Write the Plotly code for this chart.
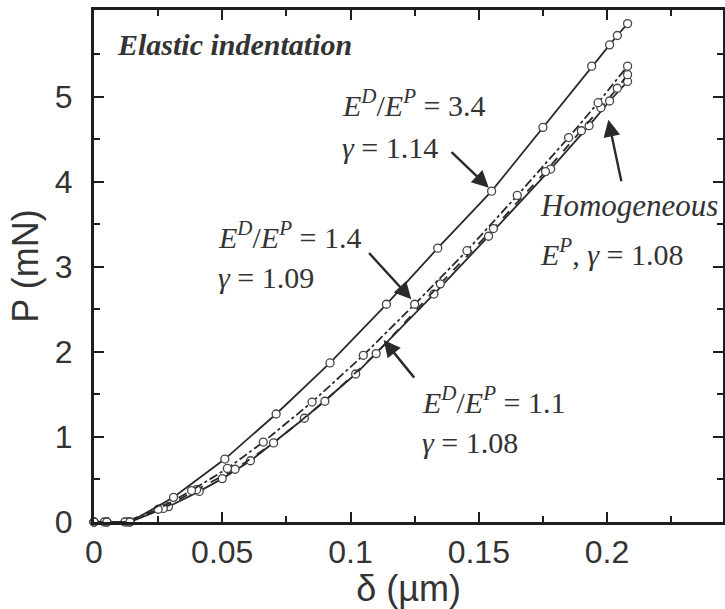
import plotly.graph_objects as go

# ---- data ----
delta_34 = [0, 0.005, 0.014, 0.031, 0.051, 0.071, 0.092, 0.114, 0.134, 0.155, 0.175, 0.194, 0.201, 0.204, 0.208]
P_34 = [0, 0, 0, 0.29, 0.74, 1.27, 1.87, 2.56, 3.22, 3.89, 4.64, 5.36, 5.61, 5.72, 5.86]

delta_14 = [0, 0.004, 0.012, 0.025, 0.038, 0.052, 0.066, 0.085, 0.105, 0.125, 0.1454, 0.165, 0.185, 0.1965, 0.208]
P_14 = [0, 0, 0, 0.15, 0.37, 0.63, 0.94, 1.41, 1.96, 2.56, 3.19, 3.84, 4.52, 4.93, 5.36]

delta_11 = [0, 0.005, 0.013, 0.027, 0.04, 0.055, 0.07, 0.09, 0.11, 0.135, 0.1557, 0.176, 0.19, 0.1976, 0.204, 0.208]
P_11 = [0, 0, 0, 0.16, 0.38, 0.62, 0.93, 1.42, 1.98, 2.80, 3.45, 4.12, 4.60, 4.87, 5.10, 5.26]

delta_h = [0, 0.005, 0.014, 0.029, 0.041, 0.05, 0.061, 0.082, 0.102, 0.1325, 0.1538, 0.178, 0.193, 0.201, 0.208]
P_h = [0, 0, 0, 0.18, 0.36, 0.51, 0.72, 1.22, 1.74, 2.68, 3.36, 4.15, 4.66, 4.95, 5.18]

x_tickvals = [0, 0.05, 0.1, 0.15, 0.2]
x_ticktext = ["0", "0.05", "0.1", "0.15", "0.2"]
x_minor = [0.025, 0.075, 0.125, 0.175, 0.225]
y_tickvals = [0, 1, 2, 3, 4, 5]
y_minor = [0.5, 1.5, 2.5, 3.5, 4.5, 5.5]

INK = "#2a2a2a"
TXT = "#333333"

series = [
    (delta_h, P_h, "Homogeneous", "solid"),
    (delta_11, P_11, "E^D/E^P = 1.1", "dash"),
    (delta_14, P_14, "E^D/E^P = 1.4", "dashdot"),
    (delta_34, P_34, "E^D/E^P = 3.4", "solid"),
]

fig = go.Figure()
for xs, ys, name, dash in series:
    fig.add_trace(go.Scatter(
        x=xs, y=ys, name=name, mode="lines+markers",
        line=dict(color=INK, width=1.8, dash=dash),
        marker=dict(symbol="circle", size=8, color="white",
                    line=dict(color="#444444", width=1.3)),
        cliponaxis=False, showlegend=False,
    ))

tickfont = dict(family="Liberation Sans, Arial, sans-serif", size=32, color=TXT)
titlefont = dict(family="Liberation Sans, Arial, sans-serif", size=36, color=TXT)

fig.update_xaxes(
    range=[0, 0.2452], showgrid=False, zeroline=False, automargin=False,
    showline=True, mirror="ticks", linewidth=3, linecolor="#1e1e1e",
    ticks="inside", ticklen=10, tickwidth=2, tickcolor="#1e1e1e",
    tickmode="array", tickvals=x_tickvals, ticktext=x_ticktext,
    minor=dict(tickmode="array", tickvals=x_minor, ticks="inside", ticklen=6,
               tickwidth=2, tickcolor="#1e1e1e"),
    tickfont=tickfont, ticklabelstandoff=0,
    title=dict(text="δ (µm)", font=titlefont, standoff=0),
)
fig.update_yaxes(
    range=[0, 6.02], showgrid=False, zeroline=False, automargin=False,
    showline=True, mirror="ticks", linewidth=3, linecolor="#1e1e1e",
    ticks="inside", ticklen=10, tickwidth=2, tickcolor="#1e1e1e",
    tickmode="array", tickvals=y_tickvals,
    minor=dict(tickmode="array", tickvals=y_minor, ticks="inside", ticklen=6,
               tickwidth=2, tickcolor="#1e1e1e"),
    tickfont=tickfont, ticklabelstandoff=12,
    title=dict(text="P (mN)", font=titlefont, standoff=6),
)

serif = "Liberation Serif, Times New Roman, serif"
labels = [
    ("<b><i>Elastic indentation</i></b>", 0.0081, 5.61, 30),
    ("<i>E</i><sup><i>D</i></sup>/<i>E</i><sup><i>P</i></sup> = 3.4", 0.0959, 4.93, 30),
    ("<i>γ</i> = 1.14", 0.0959, 4.405, 30),
    ("<i>E</i><sup><i>D</i></sup>/<i>E</i><sup><i>P</i></sup> = 1.4", 0.0476, 3.376, 30),
    ("<i>γ</i> = 1.09", 0.0476, 2.87, 30),
    ("<i>E</i><sup><i>D</i></sup>/<i>E</i><sup><i>P</i></sup> = 1.1", 0.1272, 1.435, 30),
    ("<i>γ</i> = 1.08", 0.1272, 0.929, 30),
    ("<i>Homogeneous</i>", 0.1729, 3.718, 31),
    ("<i>E</i><sup><i>P</i></sup>, <i>γ</i> = 1.08", 0.1729, 3.176, 30),
]
for text, x, y, size in labels:
    fig.add_annotation(x=x, y=y, xref="x", yref="y", text=text, showarrow=False,
                       xanchor="left", yanchor="middle",
                       font=dict(family=serif, size=size, color=TXT))

arrows = [
    (0.1539, 3.93, 0.1388, 4.365),
    (0.1237, 2.62, 0.1067, 3.18),
    (0.1129, 2.14, 0.1253, 1.68),
    (0.2005, 4.73, 0.2057, 3.99),
]
for hx, hy, tx, ty in arrows:
    fig.add_annotation(x=hx, y=hy, ax=tx, ay=ty, xref="x", yref="y",
                       axref="x", ayref="y", text="", showarrow=True,
                       arrowhead=2, arrowsize=1.4, arrowwidth=2.4,
                       arrowcolor=INK)

fig.update_layout(
    width=725, height=609,
    margin=dict(l=94, r=2, t=10, b=87),
    paper_bgcolor="white", plot_bgcolor="white",
)

fig.write_html("out.html", config={"displayModeBar": False},
               post_script="document.body.style.margin='0';document.body.style.overflow='hidden';")
